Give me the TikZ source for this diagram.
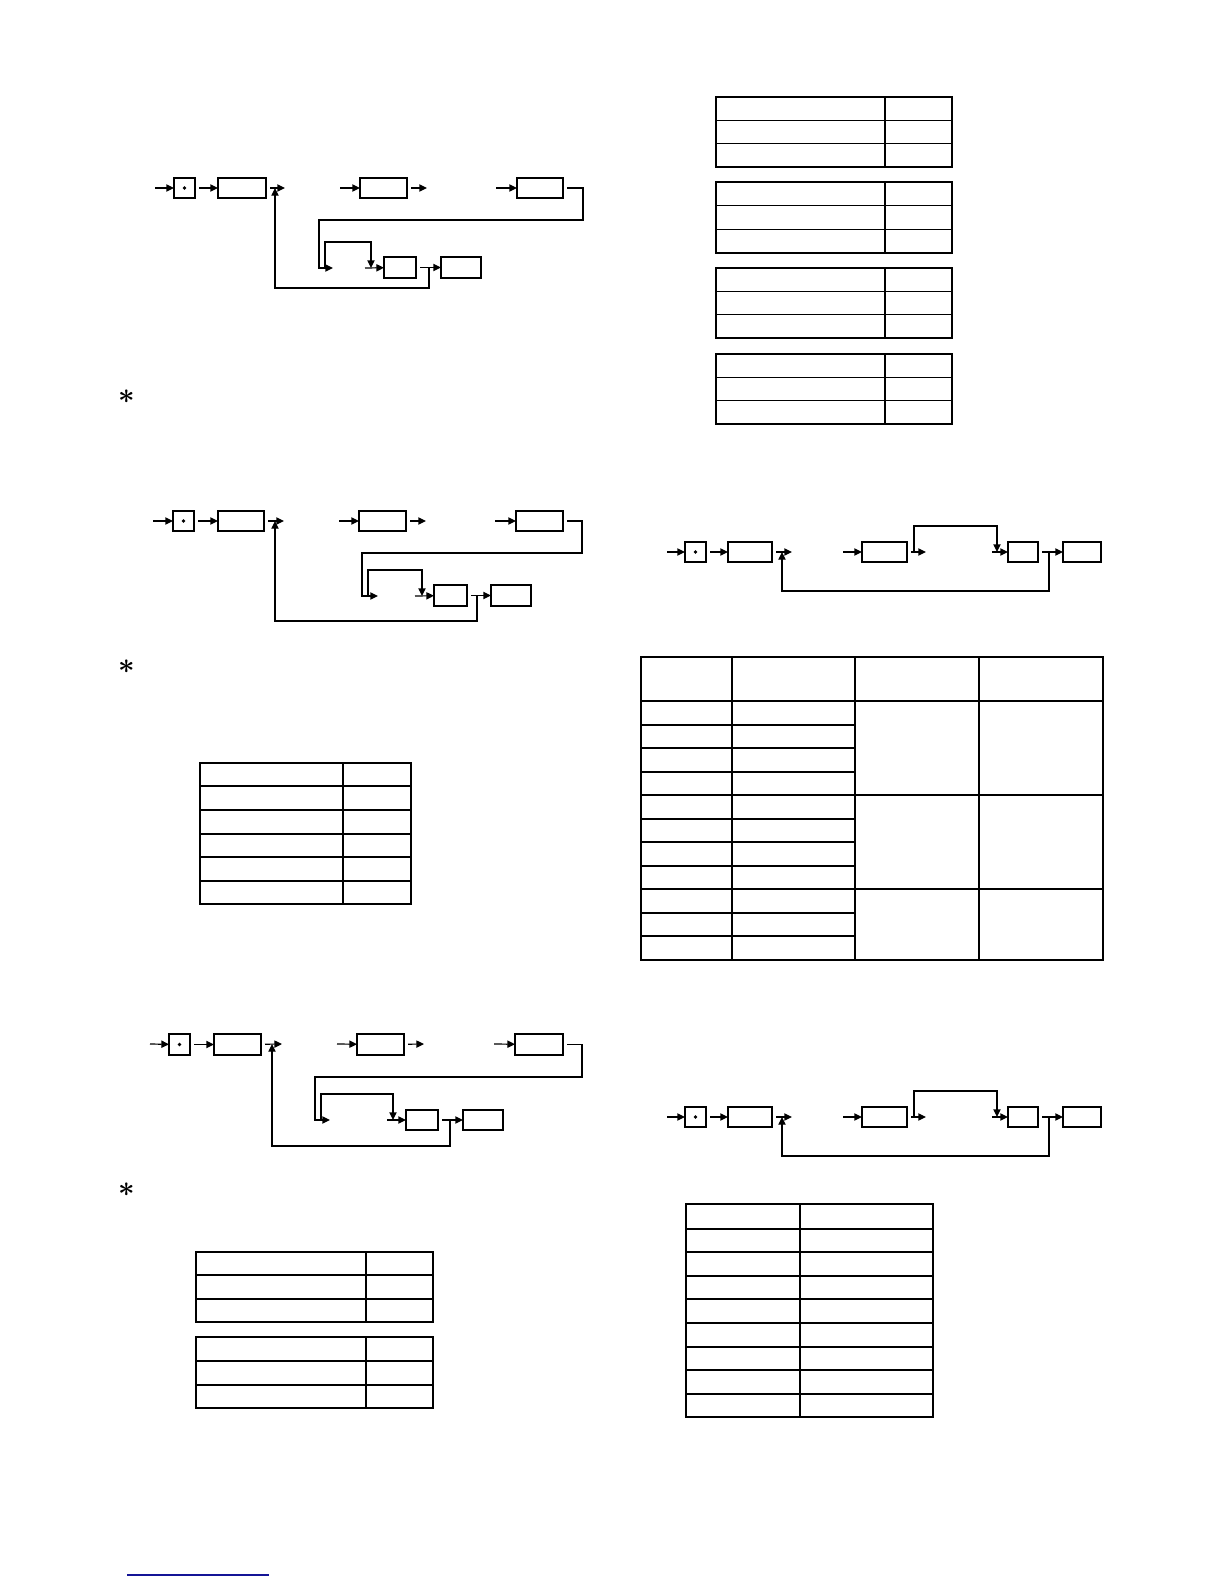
\documentclass[tikz,border=0pt]{standalone}
\usepackage{bm}
\usetikzlibrary{arrows.meta}
\definecolor{linkblue}{RGB}{20,20,150}
\tikzset{
 boxst/.style={draw, line width=0.7pt, inner sep=0pt, outer sep=0pt},
 arr/.style={line width=0.6pt, -{Triangle[length=3.8pt,width=3.6pt]}},
 gap/.style={shorten <=2pt},
 tabout/.style={line width=1pt},
 tabin/.style={line width=0.6pt},
 dotst/.style={fill=black},
 astst/.style={inner sep=0pt, font=\Large},
}
\newcommand\bx[5]{\node[boxst, minimum width={(#4-#2)*0.5pt}, minimum height={(#5-#3)*0.5pt}] (#1) at ({(#2+#4)/2},{(#3+#5)/2}) {};}
\newcommand\rflow[2]{%
\begin{scope}[shift={(0,#2)}]
\coordinate (#1s) at (667,552);
\bx{#1d}{685}{542}{706}{562}
\fill[dotst] (#1d.center) circle[radius=0.9pt];
\bx{#1a}{728}{542}{772}{562}
\coordinate (#1p) at (792,552);
\coordinate (#1q) at (843,552);
\bx{#1b}{862}{542}{907}{562}
\coordinate (#1r) at (926,552);
\coordinate (#1w) at (914,552);
\coordinate (#1x) at (997,552);
\coordinate (#1t) at (992,552);
\bx{#1c}{1008}{542}{1038}{562}
\bx{#1e}{1063}{542}{1101}{562}
\coordinate (#1y) at (1049,552);
\coordinate (#1z) at (782,552);
\draw[arr] (#1s) -- (#1d);
\draw[arr,gap] (#1d) -- (#1a);
\draw[arr,gap] (#1a) -- (#1p);
\draw[arr] (#1q) -- (#1b);
\draw[arr,gap] (#1b) -- (#1r);
\draw[arr] (#1w) -- (914,526) -| (#1x);
\draw[arr] (#1t) -- (#1c);
\draw[arr,gap] (#1c) -- (#1e);
\draw[arr] (#1y) -- (1049,591) -| (#1z);
\end{scope}}
\begin{document}
\begin{tikzpicture}[x=0.5pt,y=-0.5pt]
\useasboundingbox (0,0) rectangle (1224,1584);

% ---------- left flow 1 ----------
\coordinate (Ls) at (155,188);
\bx{Ld}{174}{178}{195}{198}
\fill[dotst] (Ld.center) circle[radius=0.9pt];
\bx{La}{218}{178}{266}{198}
\coordinate (Lp) at (285,188);
\coordinate (Lq) at (340,188);
\bx{Lb}{360}{178}{407}{198}
\coordinate (Lr) at (427,188);
\coordinate (Lt) at (496,188);
\bx{Lc}{517}{178}{563}{198}
\coordinate (Lu) at (333,268);
\coordinate (Lw) at (325,268);
\coordinate (Lx) at (371,268);
\coordinate (Lv) at (365,268);
\bx{Le}{384}{257}{416}{278}
\bx{Lf}{441}{257}{481}{278}
\coordinate (Ly) at (429,268);
\coordinate (Lz) at (275,188);
\draw[arr] (Ls) -- (Ld);
\draw[arr,gap] (Ld) -- (La);
\draw[arr,gap] (La) -- (Lp);
\draw[arr] (Lq) -- (Lb);
\draw[arr,gap] (Lb) -- (Lr);
\draw[arr] (Lt) -- (Lc);
\draw[arr,gap] (Lc.east) -| (583,220) -| (319,268) -- (Lu);
\draw[arr] (Lw) -- (325,242) -| (Lx);
\draw[arr] (Lv) -- (Le);
\draw[arr,gap] (Le) -- (Lf);
\draw[arr] (Ly) -- (429,288) -| (Lz);

% ---------- left flow 2 ----------
\coordinate (Ms) at (153,521);
\bx{Md}{173}{511}{194}{531}
\fill[dotst] (Md.center) circle[radius=0.9pt];
\bx{Ma}{218}{511}{264}{531}
\coordinate (Mp) at (284,521);
\coordinate (Mq) at (339,521);
\bx{Mb}{359}{511}{406}{531}
\coordinate (Mr) at (426,521);
\coordinate (Mt) at (495,521);
\bx{Mc}{516}{511}{563}{531}
\coordinate (Mu) at (378,596);
\coordinate (Mw) at (368,596);
\coordinate (Mx) at (422,596);
\coordinate (Mv) at (415,596);
\bx{Me}{434}{585}{467}{606}
\bx{Mf}{491}{585}{531}{606}
\coordinate (My) at (477,596);
\coordinate (Mz) at (275,521);
\draw[arr] (Ms) -- (Md);
\draw[arr,gap] (Md) -- (Ma);
\draw[arr,gap] (Ma) -- (Mp);
\draw[arr] (Mq) -- (Mb);
\draw[arr,gap] (Mb) -- (Mr);
\draw[arr] (Mt) -- (Mc);
\draw[arr,gap] (Mc.east) -| (582,553) -| (362,596) -- (Mu);
\draw[arr] (Mw) -- (368,570) -| (Mx);
\draw[arr] (Mv) -- (Me);
\draw[arr,gap] (Me) -- (Mf);
\draw[arr] (My) -- (477,621) -| (Mz);

% ---------- left flow 3 ----------
\coordinate (Ns) at (150,1044);
\bx{Nd}{169}{1034}{190}{1055}
\fill[dotst] (Nd.center) circle[radius=0.9pt];
\bx{Na}{214}{1034}{261}{1055}
\coordinate (Np) at (282,1044);
\coordinate (Nq) at (337,1044);
\bx{Nb}{357}{1034}{404}{1055}
\coordinate (Nr) at (424,1044);
\coordinate (Nt) at (494,1044);
\bx{Nc}{515}{1034}{563}{1055}
\coordinate (Nu) at (330,1120);
\coordinate (Nw) at (321,1120);
\coordinate (Nx) at (393,1120);
\coordinate (Nv) at (387,1120);
\bx{Ne}{406}{1110}{438}{1130}
\bx{Nf}{463}{1110}{503}{1130}
\coordinate (Ny) at (450,1120);
\coordinate (Nz) at (272,1044);
\draw[arr] (Ns) -- (Nd);
\draw[arr,gap] (Nd) -- (Na);
\draw[arr,gap] (Na) -- (Np);
\draw[arr] (Nq) -- (Nb);
\draw[arr,gap] (Nb) -- (Nr);
\draw[arr] (Nt) -- (Nc);
\draw[arr,gap] (Nc.east) -| (582,1077) -| (315,1120) -- (Nu);
\draw[arr] (Nw) -- (321,1094) -| (Nx);
\draw[arr] (Nv) -- (Ne);
\draw[arr,gap] (Ne) -- (Nf);
\draw[arr] (Ny) -- (450,1146) -| (Nz);

% ---------- right flows ----------
\rflow{A}{0}
\rflow{B}{565}

% ---------- asterisks ----------
\node[astst] (ast1) at (127,397) {$\bm{\ast}$};
\node[astst] (ast2) at (127,667) {$\bm{\ast}$};
\node[astst] (ast3) at (127,1190) {$\bm{\ast}$};

% ---------- right top tables ----------
\foreach \t/\b in {97/167,182/253,268/338,354/424}{
  \draw[tabin] (885,\t) -- (885,\b);
  \draw[tabin] (716,{\t+(\b-\t)/3}) -- (952,{\t+(\b-\t)/3});
  \draw[tabin] (716,{\t+2*(\b-\t)/3}) -- (952,{\t+2*(\b-\t)/3});
  \draw[tabout] (716,\t) rectangle (952,\b);
}

% ---------- big table ----------
\foreach \x in {732,855,979} \draw[tabin] (\x,657) -- (\x,960);
\foreach \y in {701,795,889} \draw[tabin] (641,\y) -- (1103,\y);
\foreach \y in {725,748,772,819,842,866,913,936} \draw[tabin] (641,\y) -- (855,\y);
\draw[tabout] (641,657) rectangle (1103,960);

% ---------- left table 1 ----------
\draw[tabin] (343,763) -- (343,904);
\foreach \y in {786,810,834,857,881} \draw[tabin] (200,\y) -- (411,\y);
\draw[tabout] (200,763) rectangle (411,904);

% ---------- left tables 2 ----------
\draw[tabin] (366,1252) -- (366,1322);
\foreach \y in {1275,1299} \draw[tabin] (196,\y) -- (433,\y);
\draw[tabout] (196,1252) rectangle (433,1322);
\draw[tabin] (366,1337) -- (366,1408);
\foreach \y in {1361,1385} \draw[tabin] (196,\y) -- (433,\y);
\draw[tabout] (196,1337) rectangle (433,1408);

% ---------- right bottom table ----------
\draw[tabin] (800,1204) -- (800,1417);
\foreach \y in {1229,1252,1276,1299,1323,1347,1370,1394} \draw[tabin] (686,\y) -- (933,\y);
\draw[tabin, line width=0.8pt] (686,1204) rectangle (933,1417);

% ---------- blue rule ----------
\draw[linkblue, line width=0.8pt] (127,1575) -- (269,1575);
\end{tikzpicture}
\end{document}
